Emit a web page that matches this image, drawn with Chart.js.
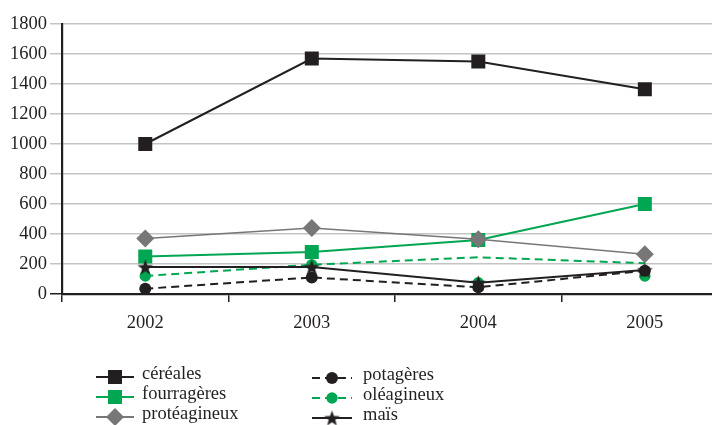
<!DOCTYPE html>
<html lang="fr">
<head>
<meta charset="utf-8">
<title>Surfaces par culture, 2002–2005</title>
<script src="https://cdn.jsdelivr.net/npm/chart.js@4.4.1/dist/chart.umd.min.js"></script>
<style>
  html, body { margin: 0; padding: 0; background: #ffffff; overflow: hidden; }
  #wrap { position: absolute; left: 0; top: 0; width: 712px; height: 425px; overflow: hidden; }
  canvas { display: block; }
</style>
</head>
<body>
<div id="wrap"><canvas id="chart" width="738" height="425"></canvas></div>
<script>
// Années
const years = ['2002', '2003', '2004', '2005'];

// Séries
const cereales     = [1000, 1570, 1550, 1365];
const fourrageres  = [250, 280, 360, 600];
const proteagineux = [370, 440, 365, 265];
const potageres    = [35, 110, 45, 155];
const oleagineuxLigne  = [120, 195, 245, 205];
const oleagineuxPoints = [120, 195, 75, 120];
const mais         = [180, 180, 75, 160];

// Graduations de l'axe vertical
const yTicks = [0, 200, 400, 600, 800, 1000, 1200, 1400, 1600, 1800];

const BLACK = '#231f20';
const GREEN = '#00a651';
const GREY  = '#777777';
const GRID  = '#c4c4c4';
const FONT  = '"Liberation Serif", "Times New Roman", serif';

// Étoile pleine pour le maïs
function makeStar(outer, inner, color) {
  const c = document.createElement('canvas');
  const s = Math.ceil(outer * 2) + 2;
  c.width = s; c.height = s;
  const g = c.getContext('2d');
  g.fillStyle = color;
  g.beginPath();
  for (let i = 0; i < 10; i++) {
    const r = i % 2 === 0 ? outer : inner;
    const a = -Math.PI / 2 + i * Math.PI / 5;
    const px = s / 2 + r * Math.cos(a);
    const py = s / 2 + 0.8 + r * Math.sin(a);
    if (i === 0) g.moveTo(px, py); else g.lineTo(px, py);
  }
  g.closePath();
  g.fill();
  return c;
}
const starImg = makeStar(8.3, 3.4, BLACK);

const series = [
  { label: 'céréales', data: cereales, color: BLACK, width: 2, dash: [], style: 'rect', radius: 9.9, order: 4 },
  { label: 'fourragères', data: fourrageres, color: GREEN, width: 2, dash: [], style: 'rect', radius: 9.9, order: 6 },
  { label: 'protéagineux', data: proteagineux, color: GREY, width: 1.5, dash: [], style: 'rectRot', radius: 9, order: 5 },
  { label: 'potagères', data: potageres, color: BLACK, width: 2, dash: [8, 5], style: 'circle', radius: 6, order: 1 },
  { label: 'oléagineux', data: oleagineuxLigne, color: GREEN, width: 2, dash: [8, 5], style: 'circle', radius: 0, order: 3 },
  { label: 'maïs', data: mais, color: BLACK, width: 2, dash: [], style: starImg, radius: 8, order: 0 }
];

const datasets = series.map(s => ({
  label: s.label,
  data: s.data,
  order: s.order,
  borderColor: s.color,
  backgroundColor: s.color,
  borderWidth: s.width,
  borderDash: s.dash,
  tension: 0,
  fill: false,
  pointStyle: s.style,
  pointRadius: s.radius,
  pointHoverRadius: s.radius,
  pointBorderWidth: 0,
  pointBackgroundColor: s.color
}));

// Marqueurs des oléagineux
datasets.push({
  label: 'oléagineux (points)',
  data: oleagineuxPoints,
  order: 2,
  showLine: false,
  borderColor: GREEN,
  backgroundColor: GREEN,
  pointStyle: 'circle',
  pointRadius: 5.7,
  pointHoverRadius: 5.7,
  pointBorderWidth: 0,
  pointBackgroundColor: GREEN
});

// Légende en deux colonnes sous le graphique
const legendItems = [
  { s: series[0], x1: 96,  x2: 134, mx: 115, tx: 142, y: 377 },
  { s: series[1], x1: 96,  x2: 134, mx: 115, tx: 142, y: 397 },
  { s: series[2], x1: 96,  x2: 134, mx: 115, tx: 142, y: 417 },
  { s: series[3], x1: 312, x2: 352, mx: 332, tx: 363, y: 378 },
  { s: series[4], x1: 312, x2: 352, mx: 332, tx: 363, y: 398, r: 5.7 },
  { s: series[5], x1: 312, x2: 352, mx: 332, tx: 363, y: 418 }
];

const legendPlugin = {
  id: 'legendeBas',
  afterDraw(chart) {
    const ctx = chart.ctx;
    const helpers = Chart.helpers;
    ctx.save();
    legendItems.forEach(it => {
      const s = it.s;
      ctx.strokeStyle = s.color;
      ctx.lineWidth = s.width === 1.5 ? 1.8 : 2;
      ctx.setLineDash(s.dash);
      ctx.beginPath();
      ctx.moveTo(it.x1, it.y);
      ctx.lineTo(it.x2, it.y);
      ctx.stroke();
      ctx.setLineDash([]);
      ctx.fillStyle = s.color;
      helpers.drawPoint(ctx, {
        pointStyle: s.style,
        radius: it.r || s.radius,
        rotation: 0,
        borderWidth: 0
      }, it.mx, it.y);
      ctx.fillStyle = BLACK;
      ctx.font = '18.5px ' + FONT;
      ctx.textAlign = 'left';
      ctx.textBaseline = 'alphabetic';
      ctx.fillText(s.label, it.tx, it.y + 2);
    });
    ctx.restore();
  }
};

new Chart(document.getElementById('chart'), {
  type: 'line',
  data: { labels: years, datasets },
  options: {
    responsive: false,
    animation: false,
    devicePixelRatio: 1,
    layout: { padding: { top: 24, right: 0, bottom: 0, left: 0 } },
    plugins: { legend: { display: false }, tooltip: { enabled: false } },
    scales: {
      x: {
        offset: true,
        ticks: { color: BLACK, padding: 10, font: { family: FONT, size: 18.5 } },
        grid: {
          offset: true,
          drawOnChartArea: false,
          drawTicks: true,
          tickLength: 8,
          color: BLACK,
          lineWidth: 1.5
        },
        border: { display: true, color: BLACK, width: 2.2 },
        afterFit(scale) { scale.height = 131; }
      },
      y: {
        min: yTicks[0],
        max: yTicks[yTicks.length - 1],
        afterBuildTicks(scale) { scale.ticks = yTicks.map(v => ({ value: v })); },
        ticks: {
          color: BLACK,
          padding: 3,
          font: { family: FONT, size: 18.5 },
          callback: v => String(v)
        },
        grid: {
          color: c => (c.tick && c.tick.value === 0 ? BLACK : GRID),
          tickColor: c => (c.tick && c.tick.value === 0 ? BLACK : GRID),
          lineWidth: 1.5,
          tickLength: 12
        },
        border: { display: true, color: BLACK, width: 2.2 },
        afterFit(scale) { scale.width = 62; }
      }
    }
  },
  plugins: [legendPlugin]
});
</script>
</body>
</html>
